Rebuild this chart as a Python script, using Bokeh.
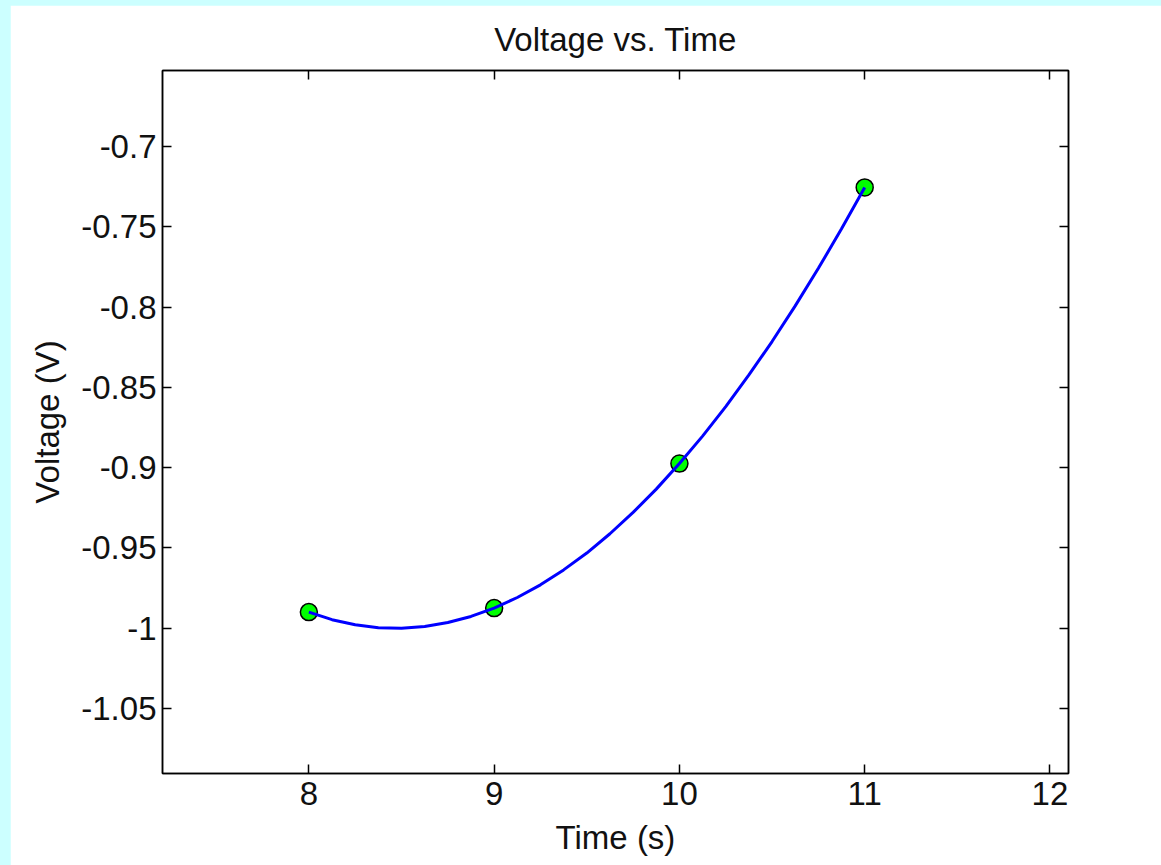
from bokeh.plotting import figure
from bokeh.models import LinearAxis, FixedTicker, Range1d
from bokeh.embed import file_html
from bokeh.resources import INLINE

# Data
time_pts = [8, 9, 10, 11]
volt_pts = [-0.990, -0.9875, -0.8975, -0.7255]

curve_t = [8.0, 8.125, 8.25, 8.375, 8.5, 8.625, 8.75, 8.875, 9.0,
           9.125, 9.25, 9.375, 9.5, 9.625, 9.75, 9.875, 10.0,
           10.125, 10.25, 10.375, 10.5, 10.625, 10.75, 10.875, 11.0]
curve_v = [-0.9900, -0.9947, -0.9979, -0.9997, -1.0000, -0.9990, -0.9965, -0.9927, -0.9875,
           -0.9809, -0.9730, -0.9637, -0.9532, -0.9412, -0.9279, -0.9134, -0.8975,
           -0.8804, -0.8620, -0.8423, -0.8215, -0.7993, -0.7759, -0.7513, -0.7255]

x_ticks = [8, 9, 10, 11, 12]
x_tick_labels = ["8", "9", "10", "11", "12"]
y_ticks = [-1.05, -1.0, -0.95, -0.9, -0.85, -0.8, -0.75, -0.7]
y_tick_labels = ["-1.05", "-1", "-0.95", "-0.9", "-0.85", "-0.8", "-0.75", "-0.7"]

FONT = "Liberation Sans"
FS = "33px"
TXT = "#111111"

p = figure(width=1151, height=860,
           x_range=Range1d(7.21, 12.1), y_range=Range1d(-1.0905, -0.6527),
           output_backend="svg", toolbar_location=None,
           min_border_left=152, min_border_right=93,
           min_border_top=65, min_border_bottom=92,
           title="Voltage vs. Time")
p.grid.visible = False
p.background_fill_color = "white"
p.border_fill_color = "white"
p.outline_line_color = "black"
p.outline_line_width = 1.5

p.title.text_font = FONT
p.title.text_font_size = FS
p.title.text_font_style = "normal"
p.title.align = "center"
p.title.text_color = TXT
p.title.standoff = 26

def style_axis(ax, ticks, labels=None):
    ax.ticker = FixedTicker(ticks=ticks)
    ax.minor_tick_line_color = None
    ax.major_tick_in = 9
    ax.major_tick_out = 0
    ax.major_tick_line_width = 1.5
    ax.major_tick_line_color = "black"
    ax.axis_line_color = "black"
    ax.axis_line_width = 1.5
    if labels is not None:
        ax.major_label_overrides = {t: l for t, l in zip(ticks, labels)}
        ax.major_label_text_font = FONT
        ax.major_label_text_font_size = FS
        ax.major_label_text_color = TXT
    else:
        ax.major_label_text_font_size = "0px"
        ax.major_label_text_color = None
        ax.major_label_text_alpha = 0
        ax.major_label_standoff = 0

xa = p.xaxis[0]
style_axis(xa, x_ticks, x_tick_labels)
xa.major_label_standoff = 8
xa.axis_label = "Time (s)"
xa.axis_label_text_font = FONT
xa.axis_label_text_font_size = FS
xa.axis_label_text_font_style = "normal"
xa.axis_label_standoff = 11
xa.axis_label_text_color = TXT

ya = p.yaxis[0]
style_axis(ya, y_ticks, y_tick_labels)
ya.major_label_standoff = 6
ya.axis_label = "Voltage (V)"
ya.axis_label_text_font = FONT
ya.axis_label_text_font_size = FS
ya.axis_label_text_font_style = "normal"
ya.axis_label_standoff = 12
ya.axis_label_text_color = TXT

top = LinearAxis()
style_axis(top, x_ticks)
p.add_layout(top, "above")
right = LinearAxis()
style_axis(right, y_ticks)
p.add_layout(right, "right")

p.scatter(time_pts, volt_pts, marker="circle", size=17,
          fill_color="#00ff00", line_color="black", line_width=1.5)
p.line(curve_t, curve_v, line_color="#0000ff", line_width=3)

html = file_html(p, INLINE)
html = html.replace("</head>",
                    "<style>html,body{background:#ccffff;overflow:hidden;}"
                    "body{padding:5px 0 0 10px !important;}</style></head>", 1)
open("out.html", "w").write(html)
